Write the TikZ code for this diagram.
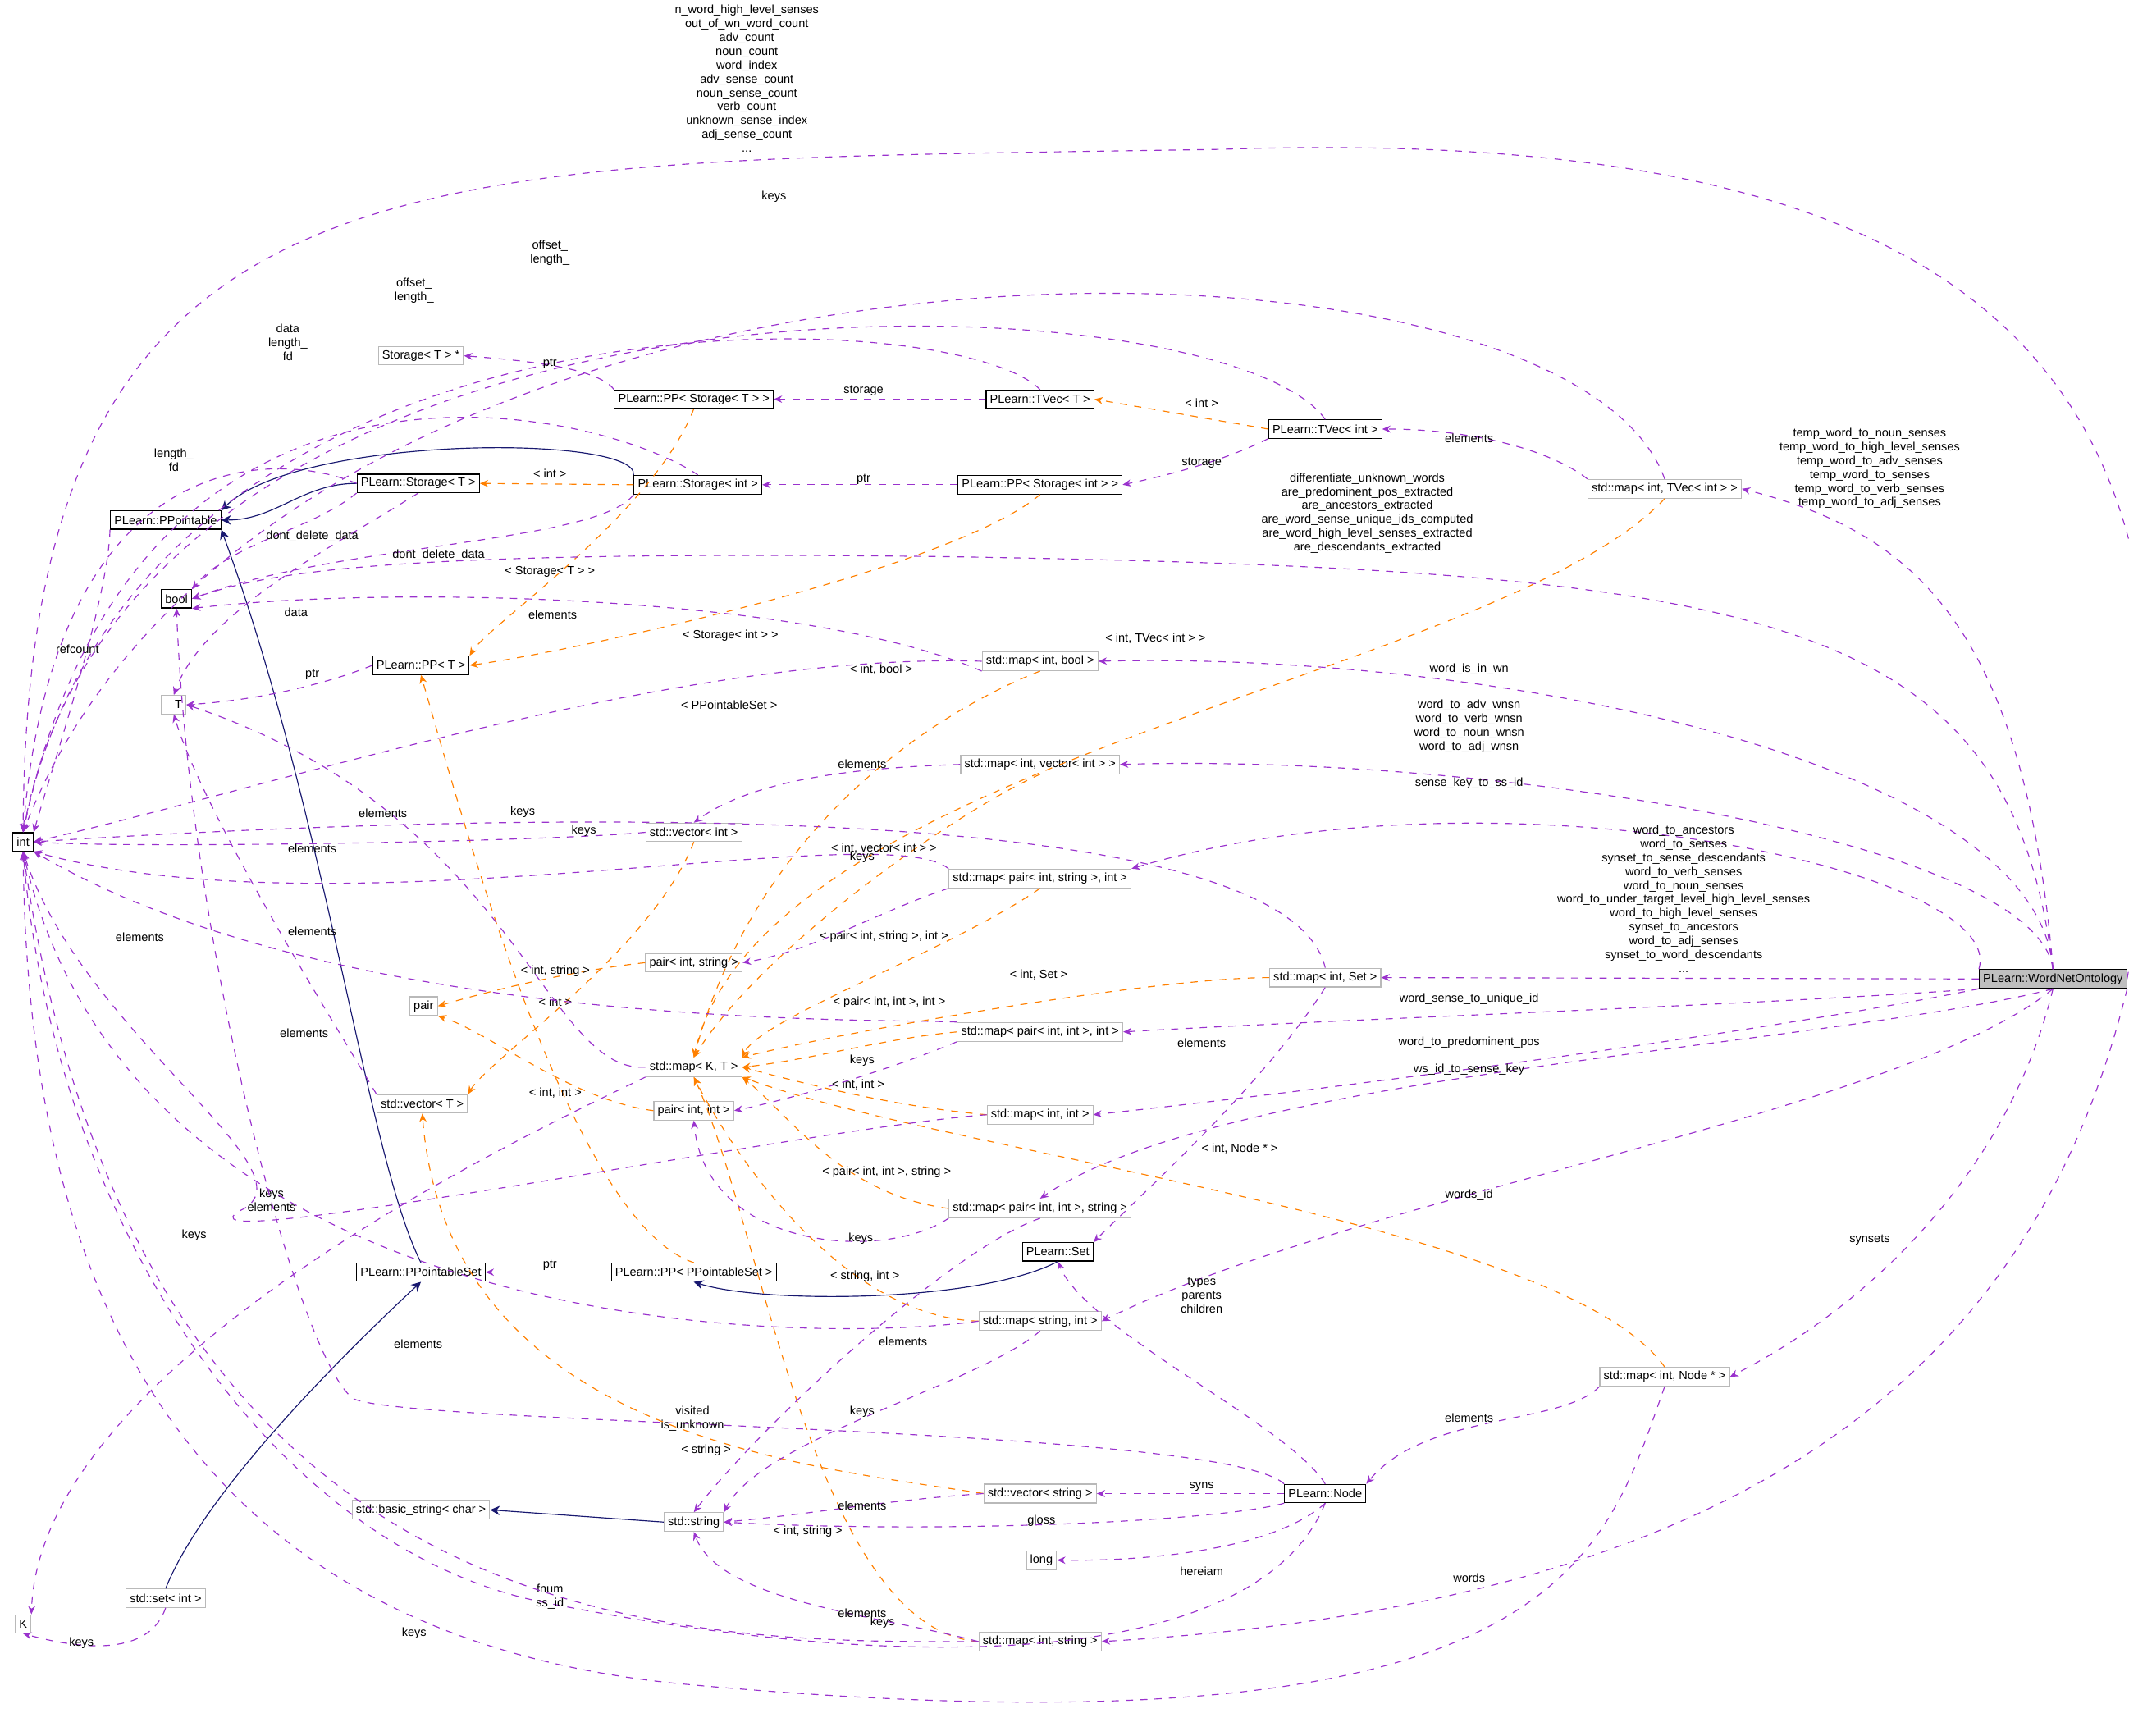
\documentclass[tikz,border=0pt]{standalone}
\usepackage{fontspec}
\setmainfont{Liberation Sans}
\usetikzlibrary{arrows.meta}
\definecolor{usecol}{HTML}{9A32CD}
\definecolor{navy}{HTML}{191970}
\begin{document}
\begin{tikzpicture}[x=0.02cm,y=-0.02cm,
    font=\fontsize{5}{5.8}\selectfont,
    box/.style={draw=black, fill=white, inner sep=1.6pt, minimum height=0.27cm},
    gbox/.style={draw=gray!55, fill=white, inner sep=1.6pt, minimum height=0.27cm},
    use/.style={dashed, draw=usecol, -{Stealth[length=3.5pt,width=3pt]}},
    tmpl/.style={dashed, draw=orange, -{Stealth[length=3.5pt,width=3pt]}},
    inh/.style={draw=navy, -{Stealth[length=4pt,width=4pt]}},
    lab/.style={align=center, inner sep=0pt, font=\fontsize{5}{5.8}\selectfont}]
    \useasboundingbox (0,0) rectangle (1568,1278);

    % classes
    \node[box] (int) at (17,620) {int\hspace{8pt}};
    \node[box] (bool) at (130,441) {bool\hspace{6pt}};
    \node[gbox] (T) at (128,519) {\hspace{4pt}T\hspace{4pt}};
    \node[gbox] (K) at (17,1196) {K\hspace{4pt}};
    \node[gbox] (pair) at (312,741) {pair\hspace{6pt}};
    \node[gbox] (long) at (767,1149) {long};
    \node[gbox] (stp) at (310,262) {Storage< T > *};
    \node[box] (ppt) at (122,383) {PLearn::PPointable};
    \node[box] (stT) at (308,356) {PLearn::Storage< T >};
    \node[box] (ppT) at (310,490) {PLearn::PP< T >};
    \node[box] (ppsT) at (511,294) {PLearn::PP< Storage< T > >};
    \node[box] (stI) at (514,357) {PLearn::Storage< int >};
    \node[box] (tvT) at (766,294) {PLearn::TVec< T >};
    \node[box] (tvI) at (976,316) {PLearn::TVec< int >};
    \node[box] (ppsI) at (766,357) {PLearn::PP< Storage< int > >};
    \node[gbox] (mTV) at (1226,360) {std::map< int, TVec< int > >};
    \node[gbox] (mB) at (766,487) {std::map< int, bool >};
    \node[gbox] (mV) at (766,563) {std::map< int, vector< int > >};
    \node[gbox] (vI) at (511,613) {std::vector< int >};
    \node[gbox] (mPS) at (766,647) {std::map< pair< int, string >, int >};
    \node[gbox] (pIS) at (511,709) {pair< int, string >};
    \node[gbox] (mS) at (976,720) {std::map< int, Set >};
    \node[gbox] (mKT) at (511,786) {std::map< K, T >};
    \node[gbox] (mPI) at (766,760) {std::map< pair< int, int >, int >};
    \node[gbox] (vT) at (311,813) {std::vector< T >};
    \node[gbox] (pII) at (511,818) {pair< int, int >};
    \node[gbox] (mII) at (766,821) {std::map< int, int >};
    \node[box] (pps) at (310,937) {PLearn::PPointableSet};
    \node[box] (ppPS) at (511,937) {PLearn::PP< PPointableSet >};
    \node[gbox] (mPIS) at (766,890) {std::map< pair< int, int >, string >};
    \node[box] (Set) at (779,922) {PLearn::Set};
    \node[gbox] (mSI) at (766,973) {std::map< string, int >};
    \node[gbox] (mN) at (1226,1014) {std::map< int, Node * >};
    \node[gbox] (vS) at (766,1100) {std::vector< string >};
    \node[box] (Node) at (976,1100) {PLearn::Node};
    \node[gbox] (bs) at (310,1112) {std::basic\_string< char >};
    \node[gbox] (str) at (511,1121) {std::string};
    \node[gbox] (sI) at (122,1177) {std::set< int >};
    \node[gbox] (mIS) at (766,1209) {std::map< int, string >};
    \node[box, fill=gray!50] (W) at (1512,721) {PLearn::WordNetOntology};

    % inheritance
    \draw[inh] (stT.west) to[out=180,in=0] (ppt.east);
    \draw[inh] (stI.north west) .. controls (470,320) and (220,320) .. (ppt.north east);
    \draw[inh] (pps.north) .. controls (270,850) and (240,600) .. (ppt.south east);
    \draw[inh] (sI.north) .. controls (150,1100) and (250,1000) .. (pps.south);
    \draw[inh] (Set.south) .. controls (720,960) and (560,960) .. (ppPS.south);
    \draw[inh] (str.west) -- (bs.east);

    % templates
    \draw[tmpl] (tvI.west) -- (tvT.east);
    \draw[tmpl] (stI.west) -- (stT.east);
    \draw[tmpl] (ppsT.south) .. controls (480,380) and (360,460) .. (ppT.north east);
    \draw[tmpl] (ppsI.south) .. controls (700,420) and (420,480) .. (ppT.east);
    \draw[tmpl] (ppPS.north) .. controls (420,900) and (340,600) .. (ppT.south);
    \draw[tmpl] (mTV.south) .. controls (1100,500) and (560,560) .. (mKT.north);
    \draw[tmpl] (mB.south) .. controls (700,520) and (560,600) .. (mKT.north);
    \draw[tmpl] (mV.south) .. controls (700,600) and (560,700) .. (mKT.north);
    \draw[tmpl] (mPS.south) .. controls (700,700) and (560,750) .. (mKT.north east);
    \draw[tmpl] (mS.west) .. controls (850,720) and (620,760) .. (mKT.north east);
    \draw[tmpl] (mPI.west) .. controls (650,765) and (600,780) .. (mKT.east);
    \draw[tmpl] (mII.west) .. controls (660,815) and (600,800) .. (mKT.east);
    \draw[tmpl] (mPIS.west) .. controls (620,880) and (580,820) .. (mKT.south east);
    \draw[tmpl] (mN.north) .. controls (1150,900) and (700,850) .. (mKT.south east);
    \draw[tmpl] (mSI.west) .. controls (620,970) and (540,850) .. (mKT.south);
    \draw[tmpl] (mIS.west) .. controls (600,1200) and (560,900) .. (mKT.south);
    \draw[tmpl] (pIS.west) .. controls (420,715) and (360,730) .. (pair.east);
    \draw[tmpl] (pII.west) .. controls (420,810) and (360,760) .. (pair.south east);
    \draw[tmpl] (vI.south) .. controls (480,700) and (360,780) .. (vT.north east);
    \draw[tmpl] (vS.west) .. controls (600,1080) and (330,1060) .. (vT.south);

    % template labels
    \node[lab] (l1) at (885,297) {< int >};
    \node[lab] (l2) at (405,349) {< int >};
    \node[lab] (l3) at (405,421) {< Storage< T > >};
    \node[lab] (l4) at (538,468) {< Storage< int > >};
    \node[lab] (l5) at (537,519) {< PPointableSet >};
    \node[lab] (l6) at (851,470) {< int, TVec< int > >};
    \node[lab] (l7) at (649,493) {< int, bool >};
    \node[lab] (l8) at (651,625) {< int, vector< int > >};
    \node[lab] (l9) at (651,690) {< pair< int, string >, int >};
    \node[lab] (l10) at (765,718) {< int, Set >};
    \node[lab] (l11) at (655,738) {< pair< int, int >, int >};
    \node[lab] (l12) at (632,799) {< int, int >};
    \node[lab] (l13) at (653,863) {< pair< int, int >, string >};
    \node[lab] (l14) at (913,846) {< int, Node * >};
    \node[lab] (l15) at (637,940) {< string, int >};
    \node[lab] (l16) at (595,1128) {< int, string >};
    \node[lab] (l17) at (409,715) {< int, string >};
    \node[lab] (l18) at (409,738) {< int >};
    \node[lab] (l19) at (409,805) {< int, int >};
    \node[lab] (l20) at (520,1068) {< string >};

    % members of WordNetOntology
    \draw[use] (W.east) .. controls (1640,300) and (1500,90) .. (900,110) .. controls (300,120) and (20,100) .. (int.north);
    \node[lab] (a1) at (550,58) {n\_word\_high\_level\_senses\\out\_of\_wn\_word\_count\\adv\_count\\noun\_count\\word\_index\\adv\_sense\_count\\noun\_sense\_count\\verb\_count\\unknown\_sense\_index\\adj\_sense\_count\\...};
    \draw[use] (W.north) .. controls (1480,450) and (1300,420) .. (700,410) .. controls (300,405) and (200,420) .. (bool.east);
    \node[lab] (a2) at (1007,378) {differentiate\_unknown\_words\\are\_predominent\_pos\_extracted\\are\_ancestors\_extracted\\are\_word\_sense\_unique\_ids\_computed\\are\_word\_high\_level\_senses\_extracted\\are\_descendants\_extracted};
    \draw[use] (W.north) .. controls (1490,450) and (1400,390) .. (mTV.east);
    \node[lab] (a3) at (1377,345) {temp\_word\_to\_noun\_senses\\temp\_word\_to\_high\_level\_senses\\temp\_word\_to\_adv\_senses\\temp\_word\_to\_senses\\temp\_word\_to\_verb\_senses\\temp\_word\_to\_adj\_senses};
    \draw[use] (W.north) .. controls (1500,560) and (1100,480) .. (mB.east);
    \node[lab] (a4) at (1082,493) {word\_is\_in\_wn};
    \draw[use] (W.north) .. controls (1500,620) and (1100,555) .. (mV.east);
    \node[lab] (a5) at (1082,535) {word\_to\_adv\_wnsn\\word\_to\_verb\_wnsn\\word\_to\_noun\_wnsn\\word\_to\_adj\_wnsn};
    \draw[use] (W.north west) .. controls (1480,640) and (1100,560) .. (mPS.north east);
    \node[lab] (a6) at (1082,577) {sense\_key\_to\_ss\_id};
    \draw[use] (W.west) -- (mS.east);
    \node[lab] (a7) at (1240,662) {word\_to\_ancestors\\word\_to\_senses\\synset\_to\_sense\_descendants\\word\_to\_verb\_senses\\word\_to\_noun\_senses\\word\_to\_under\_target\_level\_high\_level\_senses\\word\_to\_high\_level\_senses\\synset\_to\_ancestors\\word\_to\_adj\_senses\\synset\_to\_word\_descendants\\...};
    \draw[use] (W.south west) .. controls (1300,740) and (1000,750) .. (mPI.east);
    \node[lab] (a8) at (1082,736) {word\_sense\_to\_unique\_id};
    \draw[use] (W.south west) .. controls (1300,760) and (1000,800) .. (mII.east);
    \node[lab] (a9) at (1082,768) {word\_to\_predominent\_pos};
    \draw[use] (W.south) .. controls (1350,770) and (900,790) .. (mPIS.north);
    \node[lab] (a10) at (1082,788) {ws\_id\_to\_sense\_key};
    \draw[use] (W.south) .. controls (1400,820) and (1000,880) .. (mSI.east);
    \node[lab] (a11) at (1082,880) {words\_id};
    \draw[use] (W.south) .. controls (1480,860) and (1380,960) .. (mN.east);
    \node[lab] (a12) at (1377,913) {synsets};
    \draw[use] (W.south east) .. controls (1500,1000) and (1300,1180) .. (mIS.east);
    \node[lab] (a13) at (1082,1162) {words};

    % other members
    \draw[use] (ppt.south west) .. controls (80,440) and (40,560) .. (int.north east);
    \node[lab] (b1) at (57,478) {refcount};
    \draw[use] (stT.west) .. controls (200,330) and (40,330) .. (int.north);
    \node[lab] (b2) at (128,339) {length\_\\fd};
    \draw[use] (stI.north) .. controls (440,300) and (100,220) .. (int.north);
    \node[lab] (b3) at (212,252) {data\\length\_\\fd};
    \draw[use] (tvT.north) .. controls (700,220) and (100,200) .. (int.north);
    \node[lab] (b4) at (305,214) {offset\_\\length\_};
    \draw[use] (tvI.north) .. controls (900,200) and (100,170) .. (int.north);
    \node[lab] (b5) at (405,186) {offset\_\\length\_};
    \draw[use] (mTV.north) .. controls (1150,140) and (200,140) .. (int.north);
    \node[lab] (b6) at (570,145) {keys};
    \draw[use] (mB.west) .. controls (500,480) and (200,580) .. (int.east);
    \node[lab] (b7) at (385,598) {keys};
    \draw[use] (mB.south west) .. controls (600,440) and (300,430) .. (bool.south east);
    \node[lab] (b8) at (407,453) {elements};
    \draw[use] (mV.west) .. controls (650,565) and (560,570) .. (vI.north);
    \node[lab] (b9) at (635,563) {elements};
    \draw[use] (vI.west) .. controls (400,620) and (100,625) .. (int.east);
    \node[lab] (b10) at (230,625) {elements};
    \draw[use] (mPS.north west) .. controls (650,600) and (250,690) .. (int.south east);
    \node[lab] (b11) at (230,686) {elements};
    \draw[use] (mS.north) .. controls (950,600) and (500,590) .. (int.east);
    \node[lab] (b12) at (430,612) {keys};
    \draw[use] (mPS.south west) .. controls (650,670) and (600,700) .. (pIS.east);
    \node[lab] (b13) at (635,631) {keys};
    \draw[use] (vT.north west) .. controls (250,760) and (150,600) .. (T.south);
    \node[lab] (b14) at (103,690) {elements};
    \draw[use] (mKT.west) .. controls (400,790) and (380,600) .. (T.east);
    \node[lab] (b15) at (282,599) {elements};
    \draw[use] (mKT.south west) .. controls (400,830) and (30,1000) .. (K.north east);
    \node[lab] (b16) at (143,910) {keys};
    \draw[use] (mPI.north west) .. controls (650,750) and (250,760) .. (int.south east);
    \node[lab] (b17) at (224,761) {elements};
    \draw[use] (mPI.south west) .. controls (650,790) and (580,810) .. (pII.east);
    \node[lab] (b18) at (635,781) {keys};
    \draw[use] (mII.west) .. controls (600,830) and (100,930) .. (180,890) .. controls (230,860) and (60,760) .. (int.south);
    \node[lab] (b19) at (200,884) {keys\\elements};
    \draw[use] (mPIS.south west) .. controls (650,930) and (520,920) .. (pII.south);
    \node[lab] (b20) at (634,912) {keys};
    \draw[use] (mPIS.south) .. controls (700,920) and (560,1050) .. (str.north);
    \node[lab] (b21) at (665,988) {elements};
    \draw[use] (mSI.west) .. controls (600,990) and (100,990) .. (int.south);
    \node[lab] (b22) at (308,990) {elements};
    \draw[use] (mSI.south) .. controls (720,1020) and (560,1060) .. (str.north east);
    \node[lab] (b23) at (635,1040) {keys};
    \draw[use] (mN.south west) .. controls (1150,1050) and (1050,1040) .. (Node.north east);
    \node[lab] (b24) at (1082,1044) {elements};
    \draw[use] (mN.south) .. controls (1180,1150) and (1150,1300) .. (500,1240) .. controls (100,1200) and (20,900) .. (int.south);
    \node[lab] (b25) at (650,1195) {keys};
    \draw[use] (Node.north) .. controls (950,1050) and (800,980) .. (Set.south);
    \node[lab] (b26) at (885,954) {types\\parents\\children};
    \draw[use] (Node.north west) .. controls (900,1050) and (300,1050) .. (260,1030) .. controls (220,1000) and (140,700) .. (bool.south);
    \node[lab] (b27) at (510,1045) {visited\\is\_unknown};
    \draw[use] (Node.west) -- (vS.east);
    \node[lab] (b28) at (885,1095) {syns};
    \draw[use] (Node.south west) .. controls (900,1120) and (700,1130) .. (str.east);
    \node[lab] (b29) at (767,1120) {gloss};
    \draw[use] (Node.south) .. controls (940,1140) and (850,1150) .. (long.east);
    \node[lab] (b30) at (885,1157) {hereiam};
    \draw[use] (Node.south) .. controls (930,1220) and (700,1240) .. (400,1180) .. controls (200,1140) and (40,900) .. (int.south);
    \node[lab] (b31) at (405,1176) {fnum\\ss\_id};
    \draw[use] (vS.west) .. controls (650,1105) and (600,1115) .. (str.east);
    \node[lab] (b32) at (635,1109) {elements};
    \draw[use] (mIS.west) .. controls (650,1190) and (530,1180) .. (str.south);
    \node[lab] (b33) at (635,1188) {elements};
    \draw[use] (mIS.west) .. controls (500,1210) and (100,1210) .. (int.south);
    \node[lab] (b34) at (305,1203) {keys};
    \draw[use] (sI.south) .. controls (110,1220) and (60,1215) .. (K.south);
    \node[lab] (b35) at (60,1210) {keys};
    \draw[use] (mS.south) .. controls (930,800) and (840,880) .. (Set.north east);
    \node[lab] (b36) at (885,768) {elements};
    \draw[use] (ppT.west) .. controls (250,500) and (200,515) .. (T.east);
    \node[lab] (b37) at (230,497) {ptr};
    \draw[use] (stT.south) .. controls (250,400) and (150,450) .. (T.north);
    \node[lab] (b38) at (218,451) {data};
    \draw[use] (stT.south west) .. controls (230,390) and (170,400) .. (bool.north east);
    \node[lab] (b39) at (230,395) {dont\_delete\_data};
    \draw[use] (stI.south west) .. controls (440,400) and (250,400) .. (bool.east);
    \node[lab] (b40) at (323,409) {dont\_delete\_data};
    \draw[use] (ppsT.north west) .. controls (440,270) and (380,265) .. (stp.east);
    \node[lab] (b41) at (405,268) {ptr};
    \draw[use] (tvT.west) -- (ppsT.east);
    \node[lab] (b42) at (636,288) {storage};
    \draw[use] (tvI.south west) .. controls (900,340) and (860,350) .. (ppsI.east);
    \node[lab] (b43) at (885,341) {storage};
    \draw[use] (ppsI.west) -- (stI.east);
    \node[lab] (b44) at (636,353) {ptr};
    \draw[use] (mTV.north west) .. controls (1140,330) and (1080,316) .. (tvI.east);
    \node[lab] (b45) at (1082,323) {elements};
    \draw[use] (ppPS.west) -- (pps.east);
    \node[lab] (b46) at (405,932) {ptr};
\end{tikzpicture}
\end{document}
